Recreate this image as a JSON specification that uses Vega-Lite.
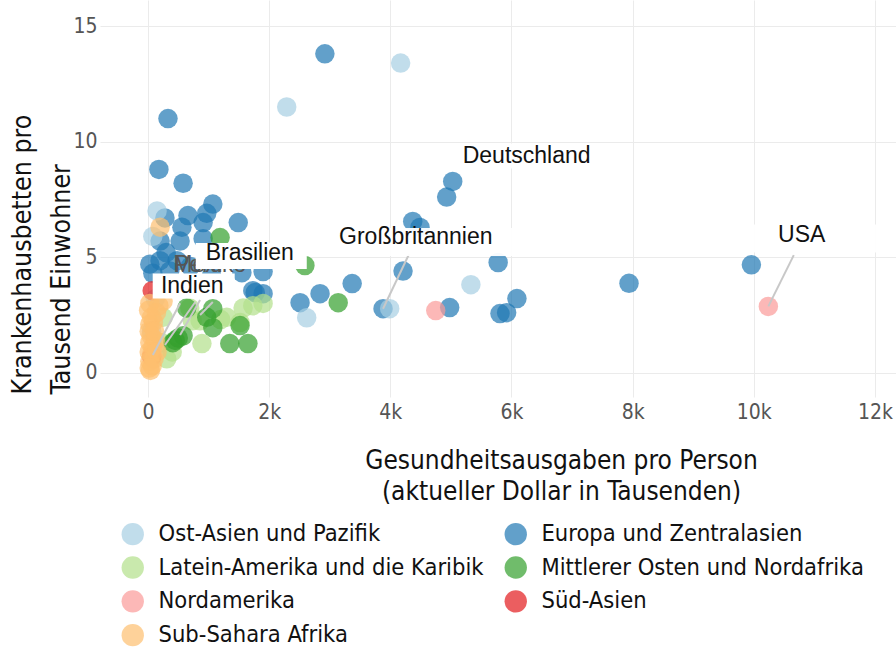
{
  "$schema": "https://vega.github.io/schema/vega-lite/v6.json",
  "width": 796,
  "height": 397,
  "autosize": {"type": "none"},
  "padding": {"left": 100, "top": 0, "right": 0, "bottom": 251},
  "background": "white",
  "datasets": {
    "pts": [
      {"Region": "Europa und Zentralasien", "Ausgaben": 2920, "Betten": 13.8},
      {"Region": "Europa und Zentralasien", "Ausgaben": 330, "Betten": 11.0},
      {"Region": "Europa und Zentralasien", "Ausgaben": 180, "Betten": 8.8},
      {"Region": "Europa und Zentralasien", "Ausgaben": 580, "Betten": 8.2},
      {"Region": "Europa und Zentralasien", "Ausgaben": 5030, "Betten": 8.28},
      {"Region": "Europa und Zentralasien", "Ausgaben": 4930, "Betten": 7.6},
      {"Region": "Europa und Zentralasien", "Ausgaben": 4370, "Betten": 6.55},
      {"Region": "Europa und Zentralasien", "Ausgaben": 4490, "Betten": 6.29},
      {"Region": "Europa und Zentralasien", "Ausgaben": 1070, "Betten": 7.3},
      {"Region": "Europa und Zentralasien", "Ausgaben": 970, "Betten": 6.9},
      {"Region": "Europa und Zentralasien", "Ausgaben": 910, "Betten": 6.5},
      {"Region": "Europa und Zentralasien", "Ausgaben": 660, "Betten": 6.8},
      {"Region": "Europa und Zentralasien", "Ausgaben": 280, "Betten": 6.7},
      {"Region": "Europa und Zentralasien", "Ausgaben": 560, "Betten": 6.3},
      {"Region": "Europa und Zentralasien", "Ausgaben": 1490, "Betten": 6.5},
      {"Region": "Europa und Zentralasien", "Ausgaben": 200, "Betten": 5.7},
      {"Region": "Europa und Zentralasien", "Ausgaben": 530, "Betten": 5.7},
      {"Region": "Europa und Zentralasien", "Ausgaben": 910, "Betten": 5.8},
      {"Region": "Europa und Zentralasien", "Ausgaben": 30, "Betten": 4.7},
      {"Region": "Europa und Zentralasien", "Ausgaben": 200, "Betten": 4.85},
      {"Region": "Europa und Zentralasien", "Ausgaben": 80, "Betten": 4.3},
      {"Region": "Europa und Zentralasien", "Ausgaben": 360, "Betten": 4.4},
      {"Region": "Europa und Zentralasien", "Ausgaben": 480, "Betten": 4.85},
      {"Region": "Europa und Zentralasien", "Ausgaben": 700, "Betten": 4.6},
      {"Region": "Europa und Zentralasien", "Ausgaben": 1050, "Betten": 4.2},
      {"Region": "Europa und Zentralasien", "Ausgaben": 300, "Betten": 5.2},
      {"Region": "Europa und Zentralasien", "Ausgaben": 1550, "Betten": 4.33},
      {"Region": "Europa und Zentralasien", "Ausgaben": 1900, "Betten": 4.38},
      {"Region": "Europa und Zentralasien", "Ausgaben": 1730, "Betten": 3.55},
      {"Region": "Europa und Zentralasien", "Ausgaben": 1900, "Betten": 3.42},
      {"Region": "Europa und Zentralasien", "Ausgaben": 1770, "Betten": 3.47},
      {"Region": "Europa und Zentralasien", "Ausgaben": 2510, "Betten": 3.03},
      {"Region": "Europa und Zentralasien", "Ausgaben": 2840, "Betten": 3.42},
      {"Region": "Europa und Zentralasien", "Ausgaben": 3370, "Betten": 3.86},
      {"Region": "Europa und Zentralasien", "Ausgaben": 3880, "Betten": 2.77},
      {"Region": "Europa und Zentralasien", "Ausgaben": 4210, "Betten": 4.4},
      {"Region": "Europa und Zentralasien", "Ausgaben": 5780, "Betten": 4.77},
      {"Region": "Europa und Zentralasien", "Ausgaben": 4980, "Betten": 2.82},
      {"Region": "Europa und Zentralasien", "Ausgaben": 6090, "Betten": 3.21},
      {"Region": "Europa und Zentralasien", "Ausgaben": 5810, "Betten": 2.56},
      {"Region": "Europa und Zentralasien", "Ausgaben": 5920, "Betten": 2.6},
      {"Region": "Europa und Zentralasien", "Ausgaben": 7940, "Betten": 3.87},
      {"Region": "Europa und Zentralasien", "Ausgaben": 9960, "Betten": 4.67},
      {"Region": "Ost-Asien und Pazifik", "Ausgaben": 2290, "Betten": 11.5},
      {"Region": "Ost-Asien und Pazifik", "Ausgaben": 4170, "Betten": 13.4},
      {"Region": "Ost-Asien und Pazifik", "Ausgaben": 150, "Betten": 7.0},
      {"Region": "Ost-Asien und Pazifik", "Ausgaben": 80, "Betten": 5.9},
      {"Region": "Ost-Asien und Pazifik", "Ausgaben": 2620, "Betten": 2.38},
      {"Region": "Ost-Asien und Pazifik", "Ausgaben": 3990, "Betten": 2.77},
      {"Region": "Ost-Asien und Pazifik", "Ausgaben": 5330, "Betten": 3.81},
      {"Region": "Ost-Asien und Pazifik", "Ausgaben": 120, "Betten": 3.2},
      {"Region": "Ost-Asien und Pazifik", "Ausgaben": 60, "Betten": 1.8},
      {"Region": "Latein-Amerika und die Karibik", "Ausgaben": 860, "Betten": 2.25},
      {"Region": "Latein-Amerika und die Karibik", "Ausgaben": 890, "Betten": 1.26},
      {"Region": "Latein-Amerika und die Karibik", "Ausgaben": 1300, "Betten": 2.4},
      {"Region": "Latein-Amerika und die Karibik", "Ausgaben": 1570, "Betten": 2.8},
      {"Region": "Latein-Amerika und die Karibik", "Ausgaben": 1730, "Betten": 2.9},
      {"Region": "Latein-Amerika und die Karibik", "Ausgaben": 1900, "Betten": 3.0},
      {"Region": "Latein-Amerika und die Karibik", "Ausgaben": 690, "Betten": 2.8},
      {"Region": "Latein-Amerika und die Karibik", "Ausgaben": 250, "Betten": 2.4},
      {"Region": "Latein-Amerika und die Karibik", "Ausgaben": 310, "Betten": 0.6},
      {"Region": "Latein-Amerika und die Karibik", "Ausgaben": 730, "Betten": 2.25},
      {"Region": "Latein-Amerika und die Karibik", "Ausgaben": 1520, "Betten": 2.17},
      {"Region": "Latein-Amerika und die Karibik", "Ausgaben": 230, "Betten": 1.3},
      {"Region": "Latein-Amerika und die Karibik", "Ausgaben": 400, "Betten": 0.9},
      {"Region": "Latein-Amerika und die Karibik", "Ausgaben": 1200, "Betten": 2.3},
      {"Region": "Mittlerer Osten und Nordafrika", "Ausgaben": 1190, "Betten": 5.85},
      {"Region": "Mittlerer Osten und Nordafrika", "Ausgaben": 2590, "Betten": 4.64},
      {"Region": "Mittlerer Osten und Nordafrika", "Ausgaben": 3140, "Betten": 3.03},
      {"Region": "Mittlerer Osten und Nordafrika", "Ausgaben": 450, "Betten": 1.4},
      {"Region": "Mittlerer Osten und Nordafrika", "Ausgaben": 580, "Betten": 1.6},
      {"Region": "Mittlerer Osten und Nordafrika", "Ausgaben": 640, "Betten": 2.8},
      {"Region": "Mittlerer Osten und Nordafrika", "Ausgaben": 1070, "Betten": 2.77},
      {"Region": "Mittlerer Osten und Nordafrika", "Ausgaben": 1070, "Betten": 1.95},
      {"Region": "Mittlerer Osten und Nordafrika", "Ausgaben": 1520, "Betten": 2.04},
      {"Region": "Mittlerer Osten und Nordafrika", "Ausgaben": 1350, "Betten": 1.26},
      {"Region": "Mittlerer Osten und Nordafrika", "Ausgaben": 1650, "Betten": 1.26},
      {"Region": "Mittlerer Osten und Nordafrika", "Ausgaben": 410, "Betten": 1.3},
      {"Region": "Mittlerer Osten und Nordafrika", "Ausgaben": 970, "Betten": 2.4},
      {"Region": "Mittlerer Osten und Nordafrika", "Ausgaben": 500, "Betten": 1.5},
      {"Region": "Nordamerika", "Ausgaben": 4750, "Betten": 2.69},
      {"Region": "Nordamerika", "Ausgaben": 10240, "Betten": 2.87},
      {"Region": "Süd-Asien", "Ausgaben": 70, "Betten": 3.55},
      {"Region": "Süd-Asien", "Ausgaben": 60, "Betten": 0.7},
      {"Region": "Sub-Sahara Afrika", "Ausgaben": 30, "Betten": 3.0},
      {"Region": "Sub-Sahara Afrika", "Ausgaben": 10, "Betten": 2.7},
      {"Region": "Sub-Sahara Afrika", "Ausgaben": 60, "Betten": 2.4},
      {"Region": "Sub-Sahara Afrika", "Ausgaben": 30, "Betten": 2.1},
      {"Region": "Sub-Sahara Afrika", "Ausgaben": 90, "Betten": 2.2},
      {"Region": "Sub-Sahara Afrika", "Ausgaben": 20, "Betten": 1.8},
      {"Region": "Sub-Sahara Afrika", "Ausgaben": 50, "Betten": 1.6},
      {"Region": "Sub-Sahara Afrika", "Ausgaben": 120, "Betten": 1.4},
      {"Region": "Sub-Sahara Afrika", "Ausgaben": 30, "Betten": 1.3},
      {"Region": "Sub-Sahara Afrika", "Ausgaben": 80, "Betten": 1.1},
      {"Region": "Sub-Sahara Afrika", "Ausgaben": 20, "Betten": 0.9},
      {"Region": "Sub-Sahara Afrika", "Ausgaben": 60, "Betten": 0.8},
      {"Region": "Sub-Sahara Afrika", "Ausgaben": 100, "Betten": 0.6},
      {"Region": "Sub-Sahara Afrika", "Ausgaben": 30, "Betten": 0.5},
      {"Region": "Sub-Sahara Afrika", "Ausgaben": 70, "Betten": 0.3},
      {"Region": "Sub-Sahara Afrika", "Ausgaben": 40, "Betten": 0.1},
      {"Region": "Sub-Sahara Afrika", "Ausgaben": 150, "Betten": 0.9},
      {"Region": "Sub-Sahara Afrika", "Ausgaben": 200, "Betten": 6.3},
      {"Region": "Sub-Sahara Afrika", "Ausgaben": 180, "Betten": 2.9},
      {"Region": "Sub-Sahara Afrika", "Ausgaben": 250, "Betten": 3.1},
      {"Region": "Sub-Sahara Afrika", "Ausgaben": 140, "Betten": 2.6},
      {"Region": "Sub-Sahara Afrika", "Ausgaben": 20, "Betten": 0.2},
      {"Region": "Sub-Sahara Afrika", "Ausgaben": 110, "Betten": 1.8}
    ],
    "ann": [
      {"label": "Deutschland", "lx": 6250, "ly": 9.4},
      {"label": "Großbritannien", "px": 3880, "py": 2.77, "ex": 4310, "ey": 5.14, "lx": 4420, "ly": 5.87},
      {"label": "USA", "px": 10240, "py": 2.87, "ex": 10660, "ey": 5.09, "lx": 10790, "ly": 5.98},
      {"label": "Peru", "px": 530, "py": 1.63, "ex": 860, "ey": 3.15, "lx": 830, "ly": 4.66},
      {"label": "Mexiko", "px": 280, "py": 1.2, "ex": 780, "ey": 3.06, "lx": 1020, "ly": 4.66},
      {"label": "Brasilien", "px": 860, "py": 2.5, "ex": 1070, "ey": 3.06, "lx": 1680, "ly": 5.2},
      {"label": "Indien", "px": 80, "py": 0.77, "ex": 530, "ey": 3.01, "lx": 730, "ly": 3.77}
    ]
  },
  "layer": [
    {
      "data": {"name": "pts"},
      "mark": {"type": "circle", "size": 380, "opacity": 0.7, "strokeWidth": 0},
      "encoding": {
        "x": {
          "field": "Ausgaben", "type": "quantitative",
          "scale": {"domain": [-792, 12347], "nice": false, "zero": false},
          "axis": {
            "values": [0, 2000, 4000, 6000, 8000, 10000, 12000],
            "labelExpr": "datum.value == 0 ? '0' : format(datum.value / 1000, 'd') + 'k'",
            "labelPadding": 4,
            "title": ["Gesundheitsausgaben pro Person", "(aktueller Dollar in Tausenden)"],
            "titleX": 461, "titleY": 63, "titleAlign": "center", "titleBaseline": "middle",
            "titleLineHeight": 31
          }
        },
        "y": {
          "field": "Betten", "type": "quantitative",
          "scale": {"domain": [-1.05, 16.13], "nice": false, "zero": false},
          "axis": {
            "values": [0, 5, 10, 15],
            "labelPadding": 3,
            "title": ["Krankenhausbetten pro", "Tausend Einwohner"],
            "titleAngle": -90, "titleX": -78, "titleY": 394, "titleAlign": "left", "titleBaseline": "middle",
            "titleLineHeight": 39, "titleFontSize": 26.5
          }
        },
        "color": {
          "field": "Region", "type": "nominal",
          "scale": {
            "domain": ["Ost-Asien und Pazifik", "Latein-Amerika und die Karibik", "Nordamerika", "Sub-Sahara Afrika", "Europa und Zentralasien", "Mittlerer Osten und Nordafrika", "Süd-Asien"],
            "range": ["#a6cee3", "#b2df8a", "#fb9a99", "#fdbf6f", "#1f78b4", "#33a02c", "#e31a1c"]
          },
          "legend": {"orient": "none", "legendX": 21, "legendY": 522, "columns": 2, "title": null, "direction": "vertical"}
        }
      }
    },
    {
      "data": {"name": "ann"},
      "transform": [{"filter": "isValid(datum.px)"}],
      "mark": {"type": "rule", "color": "#c8c8c8", "strokeWidth": 2},
      "encoding": {
        "x": {"field": "px", "type": "quantitative", "scale": {"domain": [-792, 12347], "nice": false, "zero": false}},
        "y": {"field": "py", "type": "quantitative", "scale": {"domain": [-1.05, 16.13], "nice": false, "zero": false}},
        "x2": {"field": "ex"},
        "y2": {"field": "ey"}
      }
    },
    {
      "data": {"name": "ann"},
      "transform": [{"filter": "datum.label == 'Peru' || datum.label == 'Mexiko'"}],
      "mark": {"type": "text", "font": "Liberation Sans", "fontSize": 23, "color": "#555555", "align": "center", "baseline": "middle"},
      "encoding": {
        "x": {"field": "lx", "type": "quantitative", "scale": {"domain": [-792, 12347], "nice": false, "zero": false}},
        "y": {"field": "ly", "type": "quantitative", "scale": {"domain": [-1.05, 16.13], "nice": false, "zero": false}},
        "text": {"field": "label"}
      }
    },
    {
      "data": {"name": "ann"},
      "transform": [{"filter": "datum.label == 'Deutschland'"}],
      "mark": {"type": "rect", "color": "white", "opacity": 0.95, "xOffset": -78, "x2Offset": 76, "yOffset": -12, "y2Offset": 13},
      "encoding": {
        "x": {"field": "lx", "type": "quantitative", "scale": {"domain": [-792, 12347], "nice": false, "zero": false}},
        "y": {"field": "ly", "type": "quantitative", "scale": {"domain": [-1.05, 16.13], "nice": false, "zero": false}},
        "x2": {"field": "lx"},
        "y2": {"field": "ly"}
      }
    },
    {
      "data": {"name": "ann"},
      "transform": [{"filter": "datum.label == 'Großbritannien'"}],
      "mark": {"type": "rect", "color": "white", "opacity": 0.95, "xOffset": -116, "x2Offset": 106, "yOffset": -9, "y2Offset": 19},
      "encoding": {
        "x": {"field": "lx", "type": "quantitative", "scale": {"domain": [-792, 12347], "nice": false, "zero": false}},
        "y": {"field": "ly", "type": "quantitative", "scale": {"domain": [-1.05, 16.13], "nice": false, "zero": false}},
        "x2": {"field": "lx"},
        "y2": {"field": "ly"}
      }
    },
    {
      "data": {"name": "ann"},
      "transform": [{"filter": "datum.label == 'USA'"}],
      "mark": {"type": "rect", "color": "white", "opacity": 0.95, "xOffset": -107, "x2Offset": 106, "yOffset": -10, "y2Offset": 18},
      "encoding": {
        "x": {"field": "lx", "type": "quantitative", "scale": {"domain": [-792, 12347], "nice": false, "zero": false}},
        "y": {"field": "ly", "type": "quantitative", "scale": {"domain": [-1.05, 16.13], "nice": false, "zero": false}},
        "x2": {"field": "lx"},
        "y2": {"field": "ly"}
      }
    },
    {
      "data": {"name": "ann"},
      "transform": [{"filter": "datum.label == 'Brasilien'"}],
      "mark": {"type": "rect", "color": "white", "opacity": 1, "xOffset": -54, "x2Offset": 57, "yOffset": -9.5, "y2Offset": 16.5},
      "encoding": {
        "x": {"field": "lx", "type": "quantitative", "scale": {"domain": [-792, 12347], "nice": false, "zero": false}},
        "y": {"field": "ly", "type": "quantitative", "scale": {"domain": [-1.05, 16.13], "nice": false, "zero": false}},
        "x2": {"field": "lx"},
        "y2": {"field": "ly"}
      }
    },
    {
      "data": {"name": "ann"},
      "transform": [{"filter": "datum.label == 'Indien'"}],
      "mark": {"type": "rect", "color": "white", "opacity": 1, "xOffset": -39.5, "x2Offset": 42.5, "yOffset": -12, "y2Offset": 13},
      "encoding": {
        "x": {"field": "lx", "type": "quantitative", "scale": {"domain": [-792, 12347], "nice": false, "zero": false}},
        "y": {"field": "ly", "type": "quantitative", "scale": {"domain": [-1.05, 16.13], "nice": false, "zero": false}},
        "x2": {"field": "lx"},
        "y2": {"field": "ly"}
      }
    },
    {
      "data": {"name": "ann"},
      "transform": [{"filter": "datum.label != 'Peru' && datum.label != 'Mexiko'"}],
      "mark": {"type": "text", "font": "Liberation Sans", "fontSize": 23, "color": "#111111", "align": "center", "baseline": "middle"},
      "encoding": {
        "x": {"field": "lx", "type": "quantitative", "scale": {"domain": [-792, 12347], "nice": false, "zero": false}},
        "y": {"field": "ly", "type": "quantitative", "scale": {"domain": [-1.05, 16.13], "nice": false, "zero": false}},
        "text": {"field": "label"}
      }
    }
  ],
  "config": {
    "view": {"stroke": null},
    "axis": {
      "domain": false,
      "ticks": false,
      "grid": true,
      "gridColor": "#ebebeb",
      "gridWidth": 1,
      "labelFont": "DejaVu Sans Condensed",
      "labelFontSize": 21,
      "labelColor": "#555555",
      "titleFont": "DejaVu Sans Condensed",
      "titleFontSize": 26,
      "titleFontWeight": "normal",
      "titleColor": "#111111"
    },
    "legend": {
      "labelFont": "DejaVu Sans Condensed",
      "labelFontSize": 23.5,
      "labelColor": "#111111",
      "symbolType": "circle",
      "symbolSize": 500,
      "symbolStrokeWidth": 0,
      "symbolOpacity": 0.7,
      "rowPadding": 8.8,
      "columnPadding": 20,
      "labelOffset": 14,
      "padding": 0,
      "labelLimit": 500
    }
  }
}
